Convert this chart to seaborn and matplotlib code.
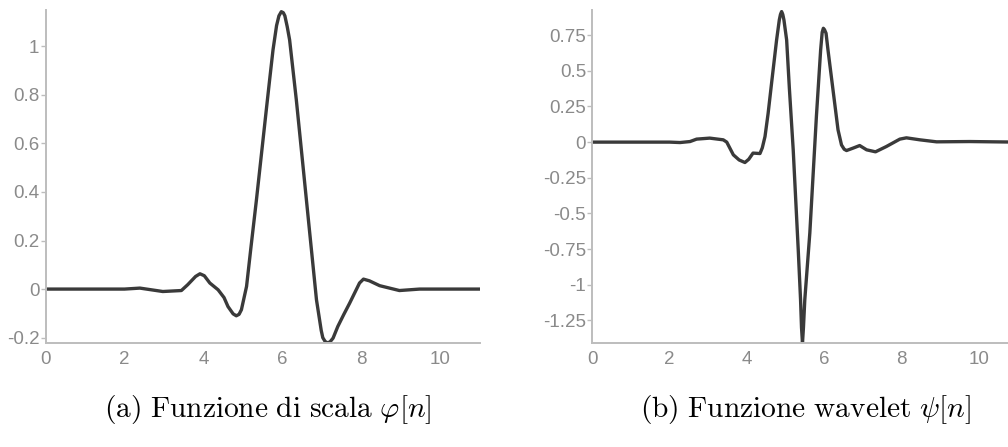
import matplotlib
matplotlib.use("Agg")
import matplotlib.pyplot as plt
import seaborn as sns
import pandas as pd

# ---- data ----
phi_x = [0.0, 1.0, 2.0, 2.39, 2.97, 3.44, 3.60, 3.70, 3.80, 3.91, 4.02, 4.16, 4.37, 4.52, 4.62,
         4.75, 4.83, 4.90, 4.96, 5.09, 5.20, 5.34, 5.47, 5.59, 5.68, 5.76, 5.85, 5.91, 5.97, 6.02,
         6.06, 6.12, 6.18, 6.35, 6.52, 6.69, 6.86, 6.98, 7.02, 7.08, 7.15, 7.21, 7.28, 7.40,
         7.55, 7.70, 7.95, 8.05, 8.20, 8.46, 8.96, 9.47, 10.0, 11.0]
phi_y = [0.0, 0.0, 0.0, 0.004, -0.010, -0.006, 0.018, 0.035, 0.052, 0.063, 0.055, 0.025, -0.003,
         -0.035, -0.072, -0.102, -0.110, -0.104, -0.085, 0.011, 0.170, 0.367, 0.560, 0.738, 0.870,
         0.985, 1.085, 1.125, 1.142, 1.138, 1.125, 1.080, 1.026, 0.779, 0.505, 0.230, -0.044,
         -0.170, -0.200, -0.216, -0.222, -0.216, -0.202, -0.154, -0.105, -0.058, 0.025, 0.041,
         0.034, 0.014, -0.006, 0.0, 0.0, 0.0]

psi_x = [0.0, 1.0, 2.0, 2.27, 2.53, 2.70, 3.04, 3.39, 3.48, 3.65, 3.80, 3.95, 4.05, 4.16, 4.34,
         4.40, 4.47, 4.55, 4.64, 4.77, 4.84, 4.87, 4.90, 4.93, 4.96, 5.03, 5.10, 5.20, 5.33, 5.39,
         5.415, 5.44, 5.465, 5.50, 5.63, 5.80, 5.91, 5.95, 5.98, 6.01, 6.05, 6.10, 6.23, 6.36,
         6.45, 6.52, 6.58, 6.75, 6.92, 7.10, 7.33, 7.61, 7.96, 8.13, 8.48, 8.91, 9.77, 11.0]
psi_y = [0.0, 0.0, 0.0, -0.003, 0.004, 0.021, 0.028, 0.016, 0.0, -0.089, -0.125, -0.143, -0.120,
         -0.077, -0.080, -0.040, 0.039, 0.200, 0.413, 0.716, 0.856, 0.895, 0.915, 0.895, 0.856,
         0.716, 0.380, -0.054, -0.754, -1.104, -1.300, -1.408, -1.300, -1.104, -0.637, 0.179,
         0.646, 0.770, 0.798, 0.788, 0.763, 0.646, 0.366, 0.086, -0.020, -0.050, -0.059, -0.042,
         -0.024, -0.054, -0.068, -0.031, 0.021, 0.030, 0.016, 0.002, 0.004, 0.0]

phi_ticks = [-0.2, 0, 0.2, 0.4, 0.6, 0.8, 1]
phi_ticklabels = ["-0.2", "0", "0.2", "0.4", "0.6", "0.8", "1"]
psi_ticks = [-1.25, -1, -0.75, -0.5, -0.25, 0, 0.25, 0.5, 0.75]
psi_ticklabels = ["-1.25", "-1", "-0.75", "-0.5", "-0.25", "0", "0.25", "0.5", "0.75"]
x_ticks = [0, 2, 4, 6, 8, 10]
captions = [r"$\mathrm{(a)\ Funzione\ di\ scala}\ \varphi[n]$",
            r"$\mathrm{(b)\ Funzione\ wavelet}\ \psi[n]$"]

sns.set_style("white")
plt.rcParams["font.family"] = ["Liberation Sans", "DejaVu Sans"]
plt.rcParams["mathtext.fontset"] = "cm"

fig = plt.figure(figsize=(10.08, 4.47), dpi=100)
ax1 = fig.add_axes([45.5 / 1008, (447 - 343) / 447, 434.5 / 1008, 333 / 447])
ax2 = fig.add_axes([592.3 / 1008, (447 - 343) / 447, 425 / 1008, 333 / 447])

spine_col = "#bdbdbd"
lab_col = "#8a8a8a"
line_col = "#3a3a3a"

specs = [
    (ax1, phi_x, phi_y, phi_ticks, phi_ticklabels, (-0.222, 1.149)),
    (ax2, psi_x, psi_y, psi_ticks, psi_ticklabels, (-1.408, 0.926)),
]
for ax, xs, ys, yt, ytl, ylim in specs:
    df = pd.DataFrame({"n": xs, "v": ys})
    sns.lineplot(data=df, x="n", y="v", ax=ax, color=line_col, linewidth=2.4)
    ax.set_xlim(0, 11)
    ax.set_ylim(*ylim)
    ax.set_xticks(x_ticks)
    ax.set_xticklabels([str(t) for t in x_ticks])
    ax.set_yticks(yt)
    ax.set_yticklabels(ytl)
    ax.set_xlabel("")
    ax.set_ylabel("")
    for s in ["top", "right"]:
        ax.spines[s].set_visible(False)
    for s in ["left", "bottom"]:
        ax.spines[s].set_color(spine_col)
        ax.spines[s].set_linewidth(1.4)
    ax.tick_params(axis="y", length=3.5, width=1, color=spine_col, pad=1,
                   labelsize=13.5, labelcolor=lab_col, left=True)
    ax.tick_params(axis="x", length=0, pad=6, labelsize=13.5, labelcolor=lab_col)
    ax.grid(False)
    ax.patch.set_alpha(0)

fig.text(268 / 1008, 1 - 409 / 447, captions[0], ha="center", va="center",
         fontsize=21.2, color="black")
fig.text(805 / 1008, 1 - 409 / 447, captions[1], ha="center", va="center",
         fontsize=21.2, color="black")

fig.savefig("out.png", dpi=100)
